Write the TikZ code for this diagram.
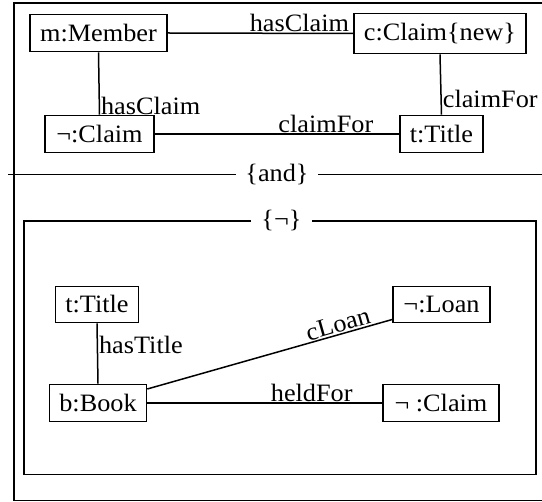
\documentclass[tikz,border=0pt]{standalone}
\usepackage{fontspec}
\setmainfont{Liberation Serif}[FakeStretch=1.05]
\begin{document}
\begin{tikzpicture}[x=1pt,y=-1pt,
  obj/.style={draw,line width=1.6pt,inner sep=0pt,minimum height=37pt,font=\fontsize{25}{29}\selectfont},
  lbl/.style={inner sep=1pt,font=\fontsize{25}{29}\selectfont},
  conn/.style={line width=1.5pt},
  frame/.style={line width=1.1pt},
  inframe/.style={line width=1.8pt},
  grp/.style={fill=white,inner sep=0pt,minimum width=82pt,minimum height=30pt,font=\fontsize{25}{29}\selectfont}]
\useasboundingbox (0,0) rectangle (542,502);
% outer frame
\draw[frame] (560,3) -- (14,3) -- (14,500.5) -- (560,500.5);
% top part
\node[obj,minimum width=137pt,minimum height=37pt] (mm) at (98.5,33) {m:Member};
\node[obj,minimum width=172pt,minimum height=40pt] (cc) at (440,33.5) {c:Claim\{new\}};
\node[obj,minimum width=109pt] (nc) at (99.5,134) {¬:Claim};
\node[obj,minimum width=83pt] (tt) at (441.5,134) {t:Title};
\draw[conn] (mm.east) -- node[lbl,pos=0.71,anchor=south]{hasClaim} (cc.west);
\draw[conn] (mm.south) -- node[lbl,pos=0.86,anchor=west]{hasClaim} (nc.north);
\draw[conn] (cc.south) -- node[lbl,pos=0.74,anchor=west]{claimFor} (tt.north);
\draw[conn] (nc.east) -- node[lbl,pos=0.70,anchor=south]{claimFor} (tt.west);
% and separator
\node[grp] (andl) at (277,174.3) {\{and\}};
\coordinate (andL) at (8,174.3);
\coordinate (andR) at (560,174.3);
\draw[conn] (andL) -- (andl.west);
\draw[conn] (andl.east) -- (andR);
% inner frame
\node[grp,minimum width=61pt] (negl) at (281.5,221) {\{¬\}};
\coordinate (fTL) at (24,221);
\coordinate (fBL) at (24,474.5);
\coordinate (fBR) at (536,474.5);
\coordinate (fTR) at (536,221);
\draw[inframe] (negl.west) -- (fTL) -- (fBL) -- (fBR) -- (fTR) -- (negl.east);
% bottom part
\node[obj,minimum width=83pt,minimum height=36pt] (tt2) at (97,304.5) {t:Title};
\node[obj,minimum width=97pt] (bb) at (98,403) {b:Book};
\node[obj,minimum width=97pt,minimum height=36pt] (nl) at (441.5,304.5) {¬:Loan};
\node[obj,minimum width=116pt] (nc2) at (441,403) {¬ :Claim};
\draw[conn] (tt2.south) -- node[lbl,pos=0.36,anchor=west]{hasTitle} (bb.north);
\draw[conn] ([yshift=14pt]bb.east) -- node[lbl,pos=0.79,anchor=south,sloped]{cLoan} ([yshift=-15pt]nl.west);
\draw[conn] (bb.east) -- node[lbl,pos=0.70,anchor=south]{heldFor} (nc2.west);
\end{tikzpicture}
\end{document}
